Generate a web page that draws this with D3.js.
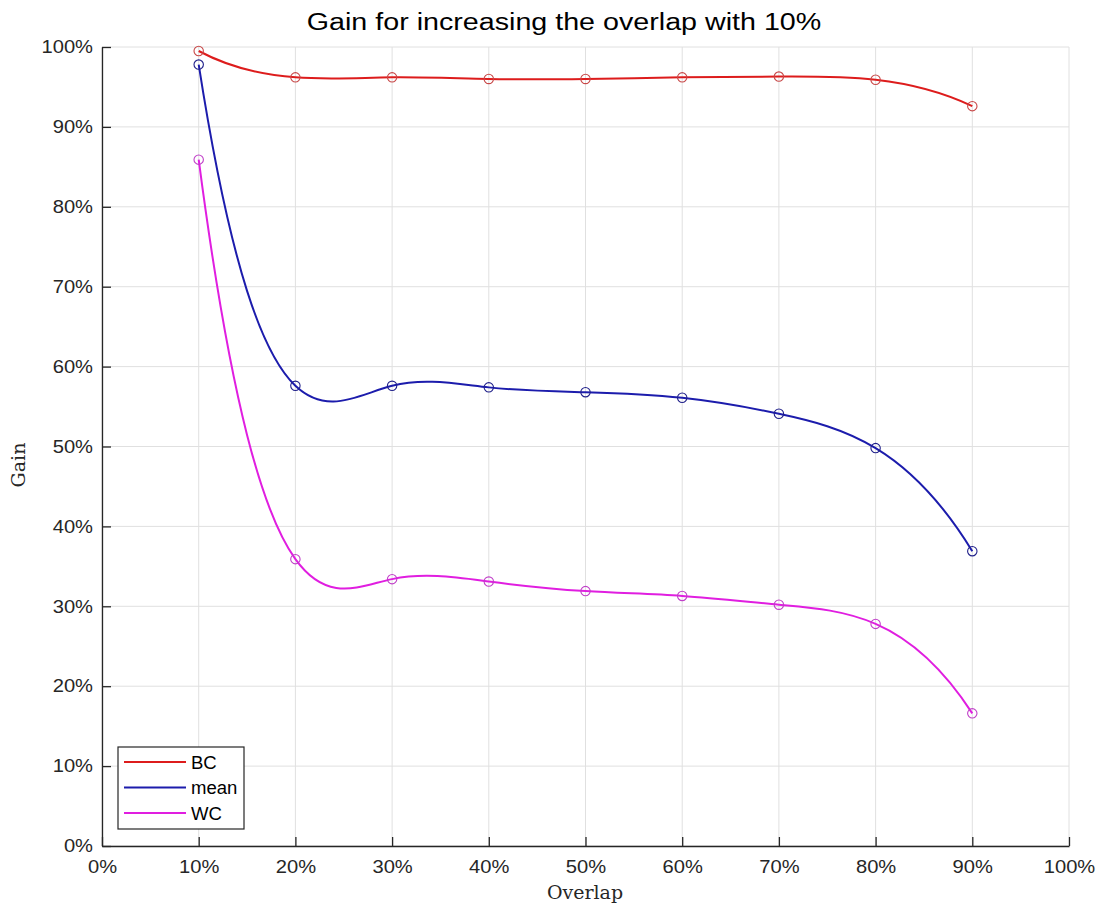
<!DOCTYPE html>
<html>
<head>
<meta charset="utf-8">
<script src="https://cdn.jsdelivr.net/npm/d3@7"></script>
<style>
  html, body { margin: 0; padding: 0; background: #fff; }
  svg { display: block; }
</style>
</head>
<body>
<svg id="chart" width="1098" height="905"></svg>
<script>
// Overlap levels (fraction) and gain per series
const overlap = [0.1, 0.2, 0.3, 0.4, 0.5, 0.6, 0.7, 0.8, 0.9];
const gainBC   = [0.995, 0.962, 0.962, 0.960, 0.960, 0.962, 0.963, 0.959, 0.926];
const gainMean = [0.978, 0.576, 0.576, 0.574, 0.568, 0.561, 0.541, 0.498, 0.369];
const gainWC   = [0.859, 0.359, 0.334, 0.331, 0.319, 0.313, 0.302, 0.278, 0.166];
const xTicks = [0, 0.1, 0.2, 0.3, 0.4, 0.5, 0.6, 0.7, 0.8, 0.9, 1.0];
const yTicks = [0, 0.1, 0.2, 0.3, 0.4, 0.5, 0.6, 0.7, 0.8, 0.9, 1.0];

const series = [
  { name: "BC",   values: gainBC,   color: "#dd1c1c", marker: "#c84848" },
  { name: "mean", values: gainMean, color: "#1c1cac", marker: "#20208a" },
  { name: "WC",   values: gainWC,   color: "#e01ee0", marker: "#c040c8" }
];

// Cubic spline with "not-a-knot" end conditions, as a d3 curve factory
function curveSplineNotAKnot(context) {
  let xs, ys;
  return {
    areaStart() {}, areaEnd() {},
    lineStart() { xs = []; ys = []; },
    point(px, py) { xs.push(+px); ys.push(+py); },
    lineEnd() {
      const n = xs.length;
      if (!n) return;
      context.moveTo(xs[0], ys[0]);
      if (n < 4) { for (let i = 1; i < n; i++) context.lineTo(xs[i], ys[i]); return; }
      const h = [];
      for (let i = 0; i < n - 1; i++) h.push(xs[i + 1] - xs[i]);
      const A = Array.from({ length: n }, () => new Array(n).fill(0));
      const b = new Array(n).fill(0);
      A[0][0] = -1 / h[0]; A[0][1] = 1 / h[0] + 1 / h[1]; A[0][2] = -1 / h[1];
      for (let i = 1; i < n - 1; i++) {
        A[i][i - 1] = h[i - 1];
        A[i][i] = 2 * (h[i - 1] + h[i]);
        A[i][i + 1] = h[i];
        b[i] = 6 * ((ys[i + 1] - ys[i]) / h[i] - (ys[i] - ys[i - 1]) / h[i - 1]);
      }
      const k = n - 1;
      A[k][k - 2] = -1 / h[k - 2]; A[k][k - 1] = 1 / h[k - 2] + 1 / h[k - 1]; A[k][k] = -1 / h[k - 1];
      // Gaussian elimination with partial pivoting
      for (let c = 0; c < n; c++) {
        let p = c;
        for (let r = c + 1; r < n; r++) if (Math.abs(A[r][c]) > Math.abs(A[p][c])) p = r;
        [A[c], A[p]] = [A[p], A[c]]; [b[c], b[p]] = [b[p], b[c]];
        for (let r = c + 1; r < n; r++) {
          const f = A[r][c] / A[c][c];
          if (!f) continue;
          for (let j = c; j < n; j++) A[r][j] -= f * A[c][j];
          b[r] -= f * b[c];
        }
      }
      const M = new Array(n).fill(0);
      for (let r = n - 1; r >= 0; r--) {
        let s = b[r];
        for (let j = r + 1; j < n; j++) s -= A[r][j] * M[j];
        M[r] = s / A[r][r];
      }
      for (let i = 0; i < n - 1; i++) {
        const hi = h[i], s = (ys[i + 1] - ys[i]) / hi;
        const d0 = s - hi * (2 * M[i] + M[i + 1]) / 6;
        const d1 = s + hi * (M[i] + 2 * M[i + 1]) / 6;
        context.bezierCurveTo(xs[i] + hi / 3, ys[i] + d0 * hi / 3,
                              xs[i + 1] - hi / 3, ys[i + 1] - d1 * hi / 3,
                              xs[i + 1], ys[i + 1]);
      }
    }
  };
}

const svg = d3.select("#chart");
const plotL = 102, plotR = 1069, plotT = 47, plotB = 846;

const x = d3.scaleLinear().domain([0, 1]).range([plotL, plotR]);
const y = d3.scaleLinear().domain([0, 1]).range([plotB, plotT]);
const pct = d => Math.round(d * 100) + "%";
const axisColor = "#262626";
const font = "'Liberation Sans', Arial, sans-serif";
const serif = "'DejaVu Serif', 'Liberation Serif', serif";

// grid
const grid = svg.append("g");
grid.selectAll("line.gx").data(xTicks).join("line")
  .attr("x1", d => x(d)).attr("x2", d => x(d))
  .attr("y1", plotT).attr("y2", plotB)
  .attr("stroke", "#e0e0e0").attr("stroke-width", 1);
grid.selectAll("line.gy").data(yTicks).join("line")
  .attr("x1", plotL).attr("x2", plotR)
  .attr("y1", d => y(d)).attr("y2", d => y(d))
  .attr("stroke", "#e0e0e0").attr("stroke-width", 1);

// axes (ticks pointing inward)
const xAxis = svg.append("g").attr("transform", `translate(0,${plotB})`)
  .call(d3.axisBottom(x).tickValues(xTicks).tickFormat(pct).tickSizeInner(-9).tickSizeOuter(0).tickPadding(14));
const yAxis = svg.append("g").attr("transform", `translate(${plotL},0)`)
  .call(d3.axisLeft(y).tickValues(yTicks).tickFormat(pct).tickSizeInner(-9).tickSizeOuter(0).tickPadding(8));
[xAxis, yAxis].forEach(a => {
  a.select(".domain").attr("stroke", axisColor).attr("stroke-width", 1.3);
  a.selectAll(".tick line").attr("stroke", axisColor).attr("stroke-width", 1.3);
  a.selectAll(".tick text").attr("fill", axisColor)
    .style("font-family", font).style("font-size", "18px")
    .attr("transform", "scale(1.12,1)");
});

// curves
const line = d3.line()
  .x((d, i) => x(overlap[i]))
  .y(d => y(d))
  .curve(curveSplineNotAKnot);

series.forEach(s => {
  svg.append("path")
    .attr("d", line(s.values))
    .attr("fill", "none")
    .attr("stroke", s.color)
    .attr("stroke-width", 2);
  svg.append("g").selectAll("circle").data(s.values).join("circle")
    .attr("cx", (d, i) => x(overlap[i]))
    .attr("cy", d => y(d))
    .attr("r", 4.7)
    .attr("fill", "none")
    .attr("stroke", s.marker)
    .attr("stroke-width", 1.1);
});

// title
svg.append("text")
  .attr("transform", "translate(564,30) scale(1.17,1)")
  .attr("text-anchor", "middle")
  .style("font-family", font).style("font-size", "24.5px")
  .attr("fill", "#000")
  .text("Gain for increasing the overlap with 10%");

// axis labels
svg.append("text")
  .attr("x", 585).attr("y", 899)
  .attr("text-anchor", "middle")
  .style("font-family", serif).style("font-size", "19px")
  .attr("fill", axisColor)
  .text("Overlap");
svg.append("text")
  .attr("transform", "translate(25,465) rotate(-90)")
  .attr("text-anchor", "middle")
  .style("font-family", serif).style("font-size", "19px")
  .attr("fill", axisColor)
  .text("Gain");

// legend
const lg = svg.append("g");
lg.append("rect")
  .attr("x", 118).attr("y", 747).attr("width", 126).attr("height", 82)
  .attr("fill", "#fff").attr("stroke", axisColor).attr("stroke-width", 1.2);
series.forEach((s, i) => {
  const yy = 762 + i * 25.5;
  lg.append("line")
    .attr("x1", 124).attr("x2", 186).attr("y1", yy).attr("y2", yy)
    .attr("stroke", s.color).attr("stroke-width", 2);
  lg.append("text")
    .attr("transform", `translate(191,${yy + 6.5}) scale(1.06,1)`)
    .style("font-family", font).style("font-size", "17.5px")
    .attr("fill", "#000")
    .text(s.name);
});
</script>
</body>
</html>
